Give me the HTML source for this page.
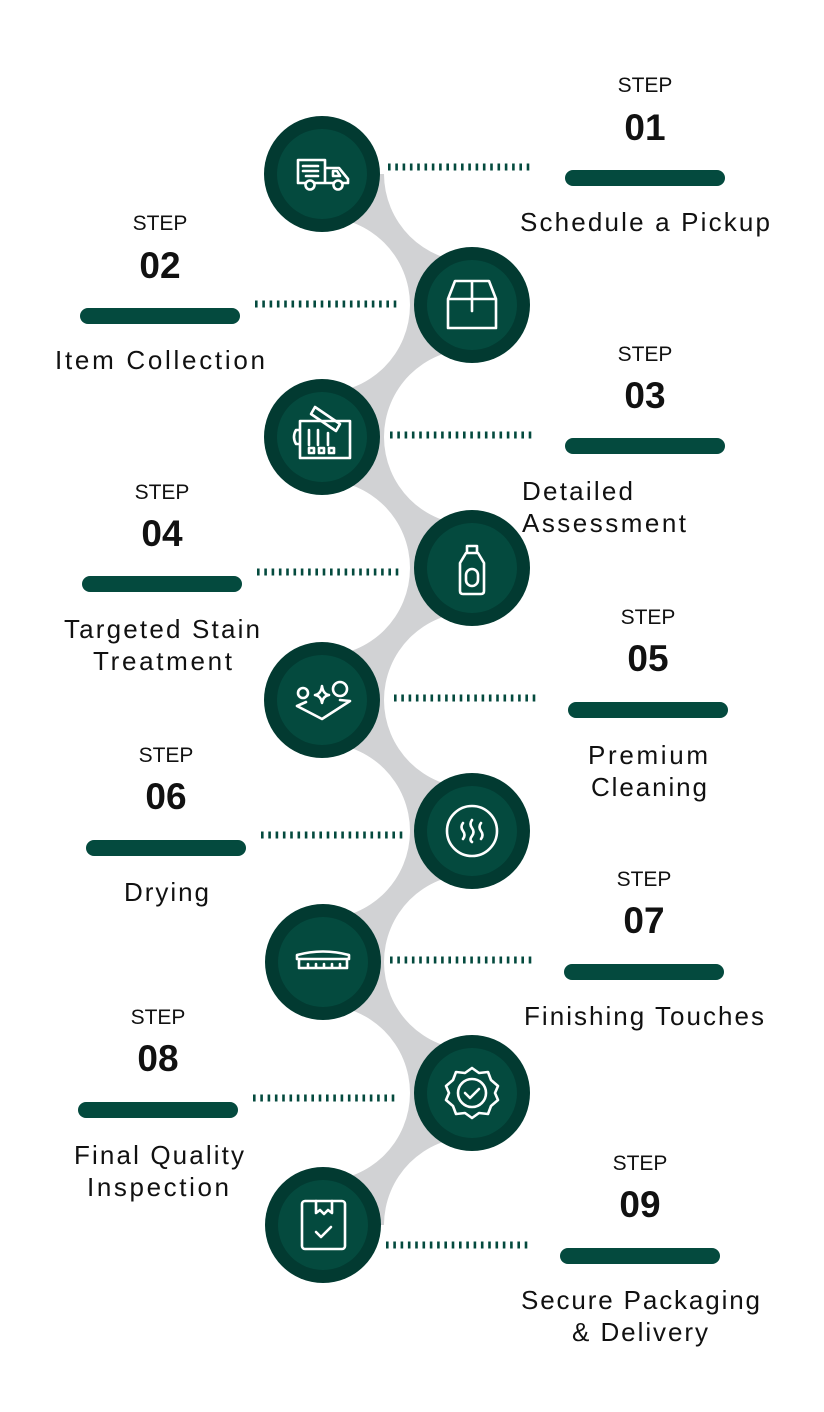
<!DOCTYPE html>
<html><head><meta charset="utf-8"><style>
html,body{margin:0;padding:0;background:#fff;}
svg{display:block;}
text{font-family:"Liberation Sans",sans-serif;fill:#111;}
.st{font-size:21px;text-anchor:middle;}
.num{font-size:37px;font-weight:bold;text-anchor:middle;}
.lb{font-size:26px;}
.ic{fill:none;stroke:#fff;stroke-width:2.6;stroke-linecap:round;stroke-linejoin:round;}
</style></head><body>
<svg width="824" height="1412" viewBox="0 0 824 1412" xmlns="http://www.w3.org/2000/svg">
<g fill="#d1d2d4">
<path d="M322 174 H384 A88 88 0 0 0 472 262 V305 H410 A88 88 0 0 0 322 217 Z"/>
<path d="M472 305 H410 A88 88 0 0 1 322 393 V437 H384 A88 88 0 0 1 472 349 Z"/>
<path d="M322 437 H384 A88 88 0 0 0 472 525 V568 H410 A88 88 0 0 0 322 480 Z"/>
<path d="M472 568 H410 A88 88 0 0 1 322 656 V700 H384 A88 88 0 0 1 472 612 Z"/>
<path d="M322 700 H384 A88 88 0 0 0 472 788 V831 H410 A88 88 0 0 0 322 743 Z"/>
<path d="M472 831 H410 A88 88 0 0 1 322 919 V962 H384 A88 88 0 0 1 472 874 Z"/>
<path d="M322 962 H384 A88 88 0 0 0 472 1050 V1093 H410 A88 88 0 0 0 322 1005 Z"/>
<path d="M472 1093 H410 A88 88 0 0 1 322 1181 V1225 H384 A88 88 0 0 1 472 1137 Z"/>
</g>
<g stroke="#044a3e" stroke-width="7" stroke-dasharray="2.6 4.7">
<line x1="388" y1="167" x2="533" y2="167"/>
<line x1="255" y1="304" x2="400" y2="304"/>
<line x1="390" y1="435" x2="535" y2="435"/>
<line x1="257" y1="572" x2="402" y2="572"/>
<line x1="394" y1="698" x2="539" y2="698"/>
<line x1="261" y1="835" x2="406" y2="835"/>
<line x1="390" y1="960" x2="535" y2="960"/>
<line x1="253" y1="1098" x2="398" y2="1098"/>
<line x1="386" y1="1245" x2="531" y2="1245"/>
</g>
<g>
<circle cx="322" cy="174" r="58" fill="#023a31"/><circle cx="322" cy="174" r="45" fill="#044a3e"/>
<circle cx="472" cy="305" r="58" fill="#023a31"/><circle cx="472" cy="305" r="45" fill="#044a3e"/>
<circle cx="322" cy="437" r="58" fill="#023a31"/><circle cx="322" cy="437" r="45" fill="#044a3e"/>
<circle cx="472" cy="568" r="58" fill="#023a31"/><circle cx="472" cy="568" r="45" fill="#044a3e"/>
<circle cx="322" cy="700" r="58" fill="#023a31"/><circle cx="322" cy="700" r="45" fill="#044a3e"/>
<circle cx="472" cy="831" r="58" fill="#023a31"/><circle cx="472" cy="831" r="45" fill="#044a3e"/>
<circle cx="323" cy="962" r="58" fill="#023a31"/><circle cx="323" cy="962" r="45" fill="#044a3e"/>
<circle cx="472" cy="1093" r="58" fill="#023a31"/><circle cx="472" cy="1093" r="45" fill="#044a3e"/>
<circle cx="323" cy="1225" r="58" fill="#023a31"/><circle cx="323" cy="1225" r="45" fill="#044a3e"/>
</g>
<g class="ic">
<path d="M298 160 H325 V183 H298 Z M325 168 H339 L348 179 V183 H325"/>
<path d="M303 166 H318 M303 171 H318 M306 176 H318"/>
<path d="M333 171 L337 171 L340 176 L333 176 Z"/>
<circle cx="310" cy="185" r="4.5" fill="#044a3e"/><circle cx="338" cy="185" r="4.5" fill="#044a3e"/>
<path d="M448 299 L455 281 H489 L496 299 V328 H448 Z M448 299 H496 M472 281 V311"/>
<path d="M300 421 H350 V458 H300 Z M300 430 H296 Q292 437 296 444 H300"/>
<path d="M309 430 V445 M318 430 V445 M328 433 V445"/>
<rect x="309" y="448" width="5" height="5"/><rect x="319" y="448" width="5" height="5"/><rect x="329" y="448" width="5" height="5"/>
<path d="M311 414 L315 407 L340 424 L336 431 Z"/>
<path d="M467 546 H477 V553 H467 Z M466 553 H478 L484 563 V591 Q484 594 481 594 H463 Q460 594 460 591 V563 Z"/>
<rect x="466" y="569" width="12" height="17" rx="6"/>
<circle cx="303" cy="693" r="5"/><circle cx="340" cy="689" r="7"/>
<path d="M322 686 Q323 694 329 695 Q323 696 322 703 Q321 696 315 695 Q321 694 322 686 Z"/>
<path d="M297 706 L322 719 L350 701 L340 700 M297 706 L306 702"/>
<circle cx="472" cy="831" r="25"/>
<path d="M463 823 q-3 4 0 8 q3 4 0 8 M472 820 q-3 4 0 8 q3 4 0 8 q-3 4 0 6 M481 823 q-3 4 0 8 q3 4 0 8"/>
<path d="M297 959 H349 V955 Q323 948 297 955 Z M299 959 V968 H347 V959 M308 964 V968 M316 964 V968 M324 964 V968 M332 964 V968 M340 964 V968"/>
<path d="M472 1068 L479 1073 L488 1072 L491 1080 L498 1086 L495 1093 L498 1100 L491 1106 L488 1114 L479 1113 L472 1118 L465 1113 L456 1114 L453 1106 L446 1100 L449 1093 L446 1086 L453 1080 L456 1072 L465 1073 Z"/>
<circle cx="472" cy="1093" r="14"/>
<path d="M465 1093 L470 1098 L479 1089"/>
<rect x="302" y="1201" width="43" height="48" rx="3"/>
<path d="M316 1201 V1213 L320 1210 L324 1214 L328 1210 L332 1213 V1201"/>
<path d="M316 1232 L321 1237 L331 1227"/>
</g>
<g fill="#044a3e">
<rect x="565" y="170" width="160" height="16" rx="8"/>
<rect x="80" y="308" width="160" height="16" rx="8"/>
<rect x="565" y="438" width="160" height="16" rx="8"/>
<rect x="82" y="576" width="160" height="16" rx="8"/>
<rect x="568" y="702" width="160" height="16" rx="8"/>
<rect x="86" y="840" width="160" height="16" rx="8"/>
<rect x="564" y="964" width="160" height="16" rx="8"/>
<rect x="78" y="1102" width="160" height="16" rx="8"/>
<rect x="560" y="1248" width="160" height="16" rx="8"/>
</g>
<text class="st" x="645" y="92">STEP</text><text class="num" x="645" y="140">01</text>
<text class="lb" x="520" y="231" textLength="250">Schedule a Pickup</text>
<text class="st" x="160" y="230">STEP</text><text class="num" x="160" y="278">02</text>
<text class="lb" x="55" y="369" textLength="210">Item Collection</text>
<text class="st" x="645" y="361">STEP</text><text class="num" x="645" y="408">03</text>
<text class="lb" x="522" y="500" textLength="111">Detailed</text>
<text class="lb" x="522" y="532" textLength="164">Assessment</text>
<text class="st" x="162" y="499">STEP</text><text class="num" x="162" y="546">04</text>
<text class="lb" x="64" y="638" textLength="196">Targeted Stain</text>
<text class="lb" x="93" y="670" textLength="139">Treatment</text>
<text class="st" x="648" y="624">STEP</text><text class="num" x="648" y="671">05</text>
<text class="lb" x="588" y="764" textLength="120">Premium</text>
<text class="lb" x="591" y="796" textLength="116">Cleaning</text>
<text class="st" x="166" y="762">STEP</text><text class="num" x="166" y="809">06</text>
<text class="lb" x="124" y="901" textLength="85">Drying</text>
<text class="st" x="644" y="886">STEP</text><text class="num" x="644" y="933">07</text>
<text class="lb" x="524" y="1025" textLength="240">Finishing Touches</text>
<text class="st" x="158" y="1024">STEP</text><text class="num" x="158" y="1071">08</text>
<text class="lb" x="74" y="1164" textLength="170">Final Quality</text>
<text class="lb" x="87" y="1196" textLength="142">Inspection</text>
<text class="st" x="640" y="1170">STEP</text><text class="num" x="640" y="1217">09</text>
<text class="lb" x="521" y="1309" textLength="239">Secure Packaging</text>
<text class="lb" x="572" y="1341" textLength="136">&amp; Delivery</text>
</svg>
</body></html>
